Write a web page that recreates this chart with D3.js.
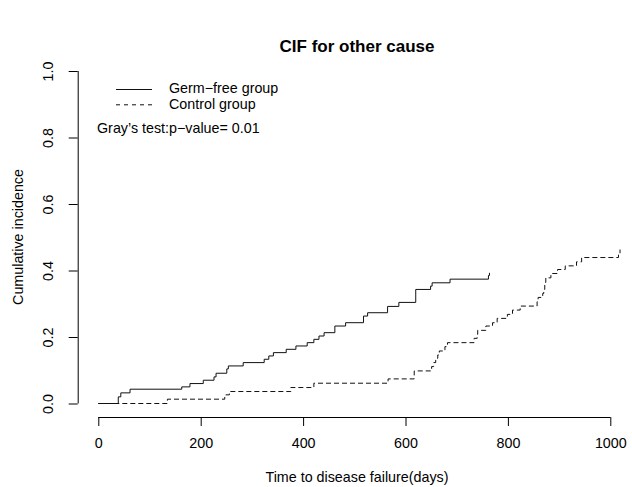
<!DOCTYPE html>
<html>
<head>
<meta charset="utf-8">
<script src="https://cdn.jsdelivr.net/npm/d3@7"></script>
<style>
  body { margin: 0; background: #fff; }
  svg text { font-family: "Liberation Sans", Arial, sans-serif; fill: #000; }
</style>
</head>
<body>
<div id="chart"></div>
<script>
const WIDTH = 632, HEIGHT = 487;
const FONT = 14.3;

// step estimates: [day, cumulative incidence]
const germFreeDays = [0, 39, 44, 62, 163, 179, 205, 226, 230, 251, 254, 283, 324, 333, 342, 367, 386, 408, 421, 431, 441, 462, 483, 518, 526, 565, 587, 620, 649, 652, 687, 762, 764];
const germFreeCif = [0, 0.020, 0.032, 0.043, 0.050, 0.060, 0.070, 0.080, 0.091, 0.104, 0.113, 0.123, 0.133, 0.143, 0.153, 0.163, 0.173, 0.183, 0.193, 0.203, 0.213, 0.233, 0.243, 0.263, 0.273, 0.292, 0.304, 0.343, 0.353, 0.363, 0.374, 0.385, 0.393];
const controlDays = [0, 135, 247, 256, 376, 421, 566, 617, 651, 655, 659, 663, 666, 677, 682, 734, 740, 741, 757, 770, 779, 799, 809, 824, 857, 859, 868, 870, 872, 874, 884, 897, 912, 934, 944, 1016, 1019];
const controlCif = [0, 0.013, 0.026, 0.036, 0.048, 0.061, 0.074, 0.098, 0.111, 0.123, 0.136, 0.146, 0.158, 0.171, 0.183, 0.196, 0.208, 0.220, 0.233, 0.243, 0.256, 0.268, 0.281, 0.293, 0.306, 0.319, 0.331, 0.343, 0.364, 0.378, 0.391, 0.403, 0.414, 0.426, 0.439, 0.451, 0.463];
const xTicks = [0, 200, 400, 600, 800, 1000];
const yTicks = [0, 0.2, 0.4, 0.6, 0.8, 1.0];
const legendLabels = ["Germ\u2212free group", "Control group"];
const testLabel = "Gray\u2019s test:p\u2212value= 0.01";

const svg = d3.select("#chart")
    .append("svg")
    .attr("width", WIDTH)
    .attr("height", HEIGHT);

const x = d3.scaleLinear().domain([0, 1000]).range([98.3, 610.3]);
const y = d3.scaleLinear().domain([0, 1]).range([403.5, 71]);
const AXIS_X = 77.7, AXIS_Y = 417;

// axes, R style: line only spans the ticks
svg.append("g")
    .attr("transform", `translate(0,${AXIS_Y})`)
    .call(d3.axisBottom(x).tickValues(xTicks).tickSize(9).tickFormat(d3.format("d")))
    .call(g => g.select(".domain").attr("d", `M${x(0)},0.5H${x(1000)}`))
    .call(g => g.selectAll(".tick text")
        .attr("font-size", FONT)
        .attr("y", 27).attr("dy", 0)
        .attr("dominant-baseline", "middle"));

svg.append("g")
    .attr("transform", `translate(${AXIS_X},0)`)
    .call(d3.axisLeft(y).tickValues(yTicks).tickSize(9).tickFormat(d3.format(".1f")))
    .call(g => g.select(".domain").attr("d", `M0.5,${y(0)}V${y(1)}`))
    .call(g => g.selectAll(".tick text")
        .attr("font-size", FONT)
        .attr("text-anchor", "middle")
        .attr("x", 0).attr("dy", 0)
        .attr("dominant-baseline", "middle")
        .attr("transform", "translate(-28,0) rotate(-90)"));

svg.selectAll(".domain, .tick line").attr("stroke", "#000");

const line = d3.line()
    .x(d => x(d[0]))
    .y(d => y(d[1]))
    .curve(d3.curveStepAfter);

const germFree = d3.zip(germFreeDays, germFreeCif);
const control = d3.zip(controlDays, controlCif);

svg.append("path")
    .datum(germFree)
    .attr("d", line)
    .attr("fill", "none")
    .attr("stroke", "#111")
    .attr("stroke-width", 1);

svg.append("path")
    .datum(control)
    .attr("d", line)
    .attr("fill", "none")
    .attr("stroke", "#111")
    .attr("stroke-width", 1)
    .attr("stroke-dasharray", "5,3");

// legend
const legend = svg.append("g");
legendLabels.forEach((lab, i) => {
    const ly = 89.5 + i * 15.3;
    legend.append("line")
        .attr("x1", 116).attr("x2", 152)
        .attr("y1", ly).attr("y2", ly)
        .attr("stroke", "#111")
        .attr("stroke-dasharray", i === 1 ? "4,4" : null);
    legend.append("text")
        .attr("x", 169).attr("y", ly)
        .attr("dominant-baseline", "middle")
        .attr("font-size", FONT)
        .text(lab);
});

svg.append("text")
    .attr("x", 97).attr("y", 129)
    .attr("dominant-baseline", "middle")
    .attr("font-size", FONT)
    .text(testLabel);

svg.append("text")
    .attr("x", 357).attr("y", 48)
    .attr("text-anchor", "middle")
    .attr("dominant-baseline", "middle")
    .attr("font-size", 17)
    .attr("font-weight", "bold")
    .text("CIF for other cause");

svg.append("text")
    .attr("x", 357).attr("y", 478)
    .attr("text-anchor", "middle")
    .attr("dominant-baseline", "middle")
    .attr("font-size", FONT)
    .text("Time to disease failure(days)");

svg.append("text")
    .attr("transform", `translate(19,237) rotate(-90)`)
    .attr("text-anchor", "middle")
    .attr("dominant-baseline", "middle")
    .attr("font-size", FONT)
    .text("Cumulative incidence");
</script>
</body>
</html>
